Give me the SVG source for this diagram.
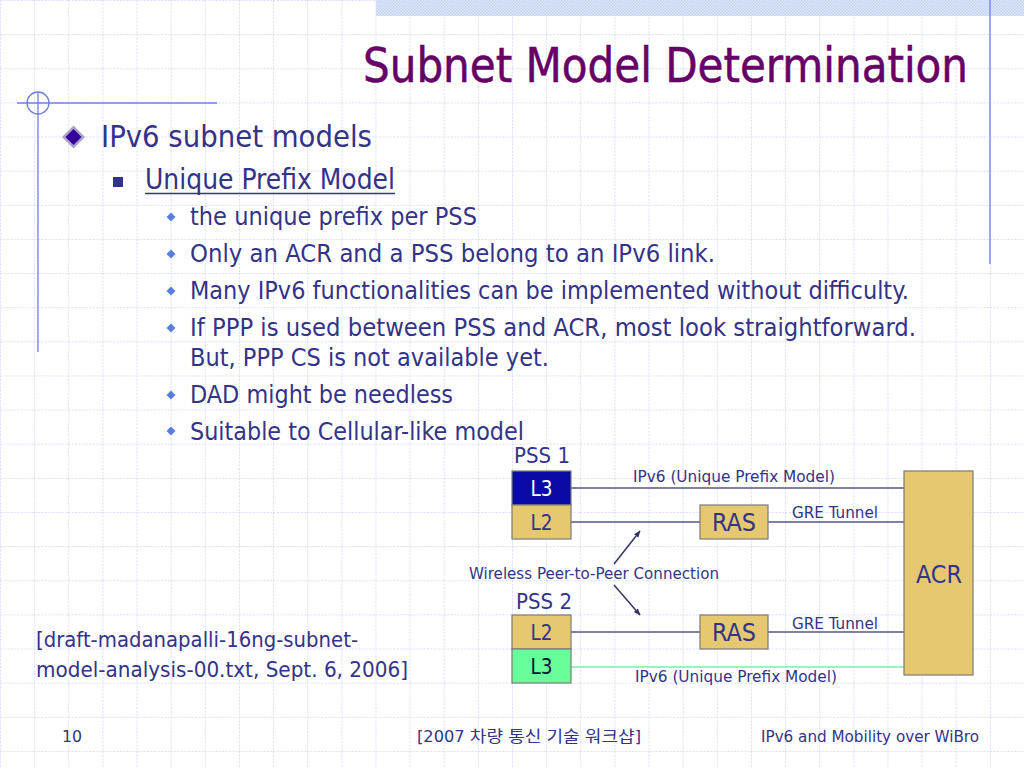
<svg xmlns="http://www.w3.org/2000/svg" width="1024" height="768" viewBox="0 0 1024 768">
<defs>
<pattern id="grid" patternUnits="userSpaceOnUse" width="34.133" height="34.133">
<line x1="0.5" y1="0" x2="0.5" y2="34.133" stroke="#d9ddf2" stroke-width="1" stroke-dasharray="2,1.5"/>
<line x1="0" y1="0.5" x2="34.133" y2="0.5" stroke="#d9ddf2" stroke-width="1" stroke-dasharray="2,1.5"/>
</pattern>
<pattern id="dots" patternUnits="userSpaceOnUse" width="3" height="3">
<rect width="3" height="3" fill="#e2e9fa"/>
<rect width="1.5" height="1.5" fill="#c3d1f2"/>
<rect x="1.5" y="1.5" width="1.5" height="1.5" fill="#c3d1f2"/>
</pattern>
<marker id="ah" viewBox="0 0 10 10" refX="9" refY="5" markerWidth="7" markerHeight="7" orient="auto" markerUnits="userSpaceOnUse">
<path d="M0,1 L10,5 L0,9 Z" fill="#333366"/>
</marker>
<style>
.t{font-family:"DejaVu Sans Condensed","DejaVu Sans","Noto Sans CJK KR",sans-serif;fill:#333388}
.box{stroke:#7a7a7a;stroke-width:1.2}
.tan{fill:#e6c870}
.ln{stroke:#55558c;stroke-width:1.5;fill:none}
.deco{stroke:#6f7fe0;stroke-width:1.3;fill:none}
</style>
</defs>
<rect width="1024" height="768" fill="#ffffff"/>
<rect width="1024" height="768" fill="url(#grid)"/>
<rect x="376" y="0" width="648" height="16" fill="url(#dots)"/>
<g id="decoration">
<line class="deco" x1="17" y1="103" x2="217" y2="103"/>
<circle class="deco" cx="38" cy="103" r="11"/>
<line class="deco" x1="38" y1="92" x2="38" y2="352"/>
<line class="deco" x1="990" y1="0" x2="990" y2="264"/>
</g>
<g id="title">
<text class="t" x="363" y="82" font-size="48" textLength="605" lengthAdjust="spacingAndGlyphs" style="fill:#660066;stroke:#660066;stroke-width:0.5">Subnet Model Determination</text>
</g>
<g id="bullets">
<path d="M73.5,125.5 L85,137 L73.5,148.5 L62,137 Z" fill="#a9a2c8"/>
<path d="M73.5,129 L81.5,137 L73.5,145 L65.5,137 Z" fill="#330099"/>
<text class="t" x="101" y="147" font-size="31" textLength="271" lengthAdjust="spacingAndGlyphs">IPv6 subnet models</text>
<rect x="113" y="177" width="10" height="10" fill="#333388"/>
<text class="t" x="145" y="189" font-size="28" textLength="250" lengthAdjust="spacingAndGlyphs">Unique Prefix Model</text>
<line x1="145" y1="193.5" x2="395" y2="193.5" stroke="#333388" stroke-width="1.6"/>
<g fill="#5a7ee0">
<path d="M171,212.5 L175.5,217 L171,221.5 L166.5,217 Z"/>
<path d="M171,249.5 L175.5,254 L171,258.5 L166.5,254 Z"/>
<path d="M171,286.5 L175.5,291 L171,295.5 L166.5,291 Z"/>
<path d="M171,323.5 L175.5,328 L171,332.5 L166.5,328 Z"/>
<path d="M171,390.5 L175.5,395 L171,399.5 L166.5,395 Z"/>
<path d="M171,426.5 L175.5,431 L171,435.5 L166.5,431 Z"/>
</g>
<g font-size="25.6">
<text class="t" x="190" y="225" textLength="287" lengthAdjust="spacingAndGlyphs">the unique prefix per PSS</text>
<text class="t" x="190" y="262" textLength="525" lengthAdjust="spacingAndGlyphs">Only an ACR and a PSS belong to an IPv6 link.</text>
<text class="t" x="190" y="299" textLength="719" lengthAdjust="spacingAndGlyphs">Many IPv6 functionalities can be implemented without difficulty.</text>
<text class="t" x="190" y="336" textLength="726" lengthAdjust="spacingAndGlyphs">If PPP is used between PSS and ACR, most look straightforward.</text>
<text class="t" x="190" y="366" textLength="359" lengthAdjust="spacingAndGlyphs">But, PPP CS is not available yet.</text>
<text class="t" x="190" y="403" textLength="263" lengthAdjust="spacingAndGlyphs">DAD might be needless</text>
<text class="t" x="190" y="440" textLength="334" lengthAdjust="spacingAndGlyphs">Suitable to Cellular-like model</text>
</g>
</g>
<g id="connectors">
<line class="ln" x1="571" y1="488" x2="905" y2="488"/>
<line class="ln" x1="571" y1="522" x2="700" y2="522"/>
<line class="ln" x1="768" y1="522" x2="905" y2="522"/>
<line class="ln" x1="571" y1="632" x2="700" y2="632"/>
<line class="ln" x1="768" y1="632" x2="905" y2="632"/>
<line x1="571" y1="667" x2="905" y2="667" stroke="#77eeaa" stroke-width="1.5"/>
<line x1="614" y1="564" x2="640" y2="531" stroke="#333366" stroke-width="1.5" marker-end="url(#ah)"/>
<line x1="614" y1="585" x2="640" y2="615" stroke="#333366" stroke-width="1.5" marker-end="url(#ah)"/>
</g>
<g id="link-labels" font-size="16.5">
<text class="t" x="633" y="482" textLength="202" lengthAdjust="spacingAndGlyphs">IPv6 (Unique Prefix Model)</text>
<text class="t" x="792" y="518" textLength="86" lengthAdjust="spacingAndGlyphs">GRE Tunnel</text>
<text class="t" x="469" y="579" textLength="250" lengthAdjust="spacingAndGlyphs">Wireless Peer-to-Peer Connection</text>
<text class="t" x="792" y="629" textLength="86" lengthAdjust="spacingAndGlyphs">GRE Tunnel</text>
<text class="t" x="635" y="682" textLength="202" lengthAdjust="spacingAndGlyphs">IPv6 (Unique Prefix Model)</text>
</g>
<g id="pss1">
<text class="t" x="514" y="463" font-size="21" textLength="56" lengthAdjust="spacingAndGlyphs">PSS 1</text>
<rect class="box" x="512" y="471" width="59" height="34" fill="#0a0aa8"/>
<text class="t" x="541.5" y="496" font-size="22" text-anchor="middle" textLength="22" lengthAdjust="spacingAndGlyphs" style="fill:#ffffff">L3</text>
<rect class="box tan" x="512" y="505" width="59" height="34"/>
<text class="t" x="541.5" y="530" font-size="22" text-anchor="middle" textLength="22" lengthAdjust="spacingAndGlyphs">L2</text>
</g>
<g id="pss2">
<text class="t" x="516" y="609" font-size="21" textLength="56" lengthAdjust="spacingAndGlyphs">PSS 2</text>
<rect class="box tan" x="512" y="615" width="59" height="34"/>
<text class="t" x="541.5" y="640" font-size="22" text-anchor="middle" textLength="22" lengthAdjust="spacingAndGlyphs">L2</text>
<rect class="box" x="512" y="649" width="59" height="34" fill="#66ff99"/>
<text class="t" x="541.5" y="674" font-size="22" text-anchor="middle" textLength="22" lengthAdjust="spacingAndGlyphs" style="fill:#111133">L3</text>
</g>
<g id="ras1">
<rect class="box tan" x="700" y="505" width="68" height="34"/>
<text class="t" x="734" y="531" font-size="24" text-anchor="middle" textLength="44" lengthAdjust="spacingAndGlyphs">RAS</text>
</g>
<g id="ras2">
<rect class="box tan" x="700" y="615" width="68" height="34"/>
<text class="t" x="734" y="641" font-size="24" text-anchor="middle" textLength="44" lengthAdjust="spacingAndGlyphs">RAS</text>
</g>
<g id="acr">
<rect class="box tan" x="904" y="471" width="69" height="204"/>
<text class="t" x="939" y="583" font-size="24" text-anchor="middle" textLength="46" lengthAdjust="spacingAndGlyphs">ACR</text>
</g>
<g id="citation" font-size="21">
<text class="t" x="36" y="647" textLength="322" lengthAdjust="spacingAndGlyphs">[draft-madanapalli-16ng-subnet-</text>
<text class="t" x="36" y="677" textLength="372" lengthAdjust="spacingAndGlyphs">model-analysis-00.txt, Sept. 6, 2006]</text>
</g>
<g id="footer" font-size="16">
<text class="t" x="62" y="742" textLength="20" lengthAdjust="spacingAndGlyphs">10</text>
<text class="t" x="417" y="742" textLength="224" lengthAdjust="spacingAndGlyphs">[2007 차량 통신 기술 워크샵]</text>
<text class="t" x="761" y="742" textLength="218" lengthAdjust="spacingAndGlyphs">IPv6 and Mobility over WiBro</text>
</g>
</svg>
